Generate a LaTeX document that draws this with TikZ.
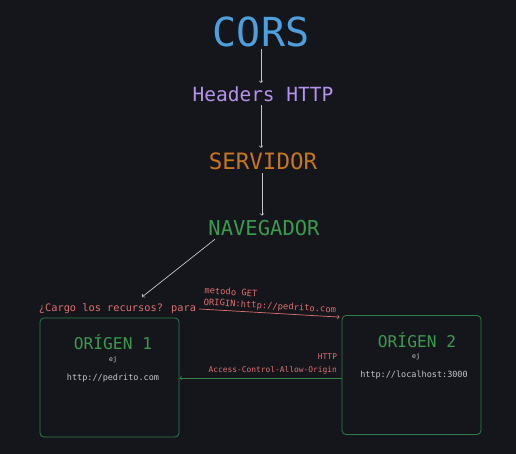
\documentclass[tikz,border=0pt]{standalone}
\usepackage{fontspec}
\setmainfont{DejaVu Sans Mono}
\usetikzlibrary{shapes,arrows,positioning,calc}

\definecolor{fondo}{HTML}{14161B}
\definecolor{azul}{HTML}{4DA0DE}
\definecolor{lila}{HTML}{B592EC}
\definecolor{naranja}{HTML}{C8761E}
\definecolor{verde}{HTML}{3C9A4E}
\definecolor{borde}{HTML}{2F7D47}
\definecolor{rojo}{HTML}{E07070}
\definecolor{gris}{HTML}{C4C6CA}

\tikzset{
  flecha/.style={->, gris, line width=0.7pt},
  caja/.style={draw=borde, line width=0.8pt, rounded corners=4pt, minimum width=139pt, minimum height=119pt},
  nota/.style={rojo, inner sep=1pt}
}

\begin{document}
\begin{tikzpicture}[x=1pt, y=-1pt]
\fill[fondo] (0,0) rectangle (516,454);
\useasboundingbox (0,0) rectangle (516,454);

% cadena principal
\node[azul, font=\fontsize{40}{44}\selectfont] (cors) at (261,32) {CORS};
\node[lila, font=\fontsize{19.5}{22}\selectfont] (headers) at (263,94) {Headers HTTP};
\node[naranja, font=\fontsize{22.5}{26}\selectfont] (servidor) at (263,161) {SERVIDOR};
\node[verde, font=\fontsize{20.5}{24}\selectfont] (navegador) at (264,228) {NAVEGADOR};

\draw[flecha] (cors.south -| headers) ++(-2,-2) coordinate (c1) -- (c1 |- headers.north);
\draw[flecha] ($(headers.south)+(-2,0)$) -- ($(servidor.north)+(-2,-1)$);
\draw[flecha] ($(servidor.south)+(-1,0)$) -- ($(navegador.north)+(-2,-1)$);

% pregunta
\node[rojo, font=\fontsize{10.3}{12}\selectfont, inner sep=1pt] (pregunta) at (117.5,309) {¿Cargo los recursos? para};
\coordinate (llegada) at (142,297);
\draw[flecha] ($(navegador.south west)+(10,0)$) -- (llegada);

% origenes
\node[caja] (caja1) at (109.5,377.5) {};
\node[caja] (caja2) at (411.5,375) {};

\node[verde, font=\fontsize{16.2}{19}\selectfont] (titulo1) at (113,342) {ORÍGEN 1};
\node[gris!80, font=\fontsize{6.5}{8}\selectfont] (ej1) at (113,360) {ej};
\node[gris, font=\fontsize{8.5}{10}\selectfont] (url1) at (113,378) {http://pedrito.com};

\node[verde, font=\fontsize{16.2}{19}\selectfont] (titulo2) at (417,340) {ORÍGEN 2};
\node[gris!80, font=\fontsize{6.5}{8}\selectfont] (ej2) at (416,357) {ej};
\node[gris, font=\fontsize{8.5}{10}\selectfont] (url2) at (414,375) {http://localhost:3000};

% peticion
\draw[->, rojo, line width=0.7pt] (pregunta.east) ++(2,0) coordinate (p1) -- ($(caja2.north west)+(-2,2)$)
  node[pos=0.02, anchor=south west, align=left, sloped, nota, font=\fontsize{8.8}{11.5}\selectfont, yshift=1pt] {metodo GET\\ORIGIN:http://pedrito.com};

% respuesta
\draw[->, verde!85!black, line width=0.7pt] (caja2.west |- url1) -- (caja1.east |- url1)
  node[pos=0.02, anchor=south east, align=right, nota, font=\fontsize{7.9}{13}\selectfont, yshift=2pt] {HTTP\\Access-Control-Allow-Origin};
\end{tikzpicture}
\end{document}
